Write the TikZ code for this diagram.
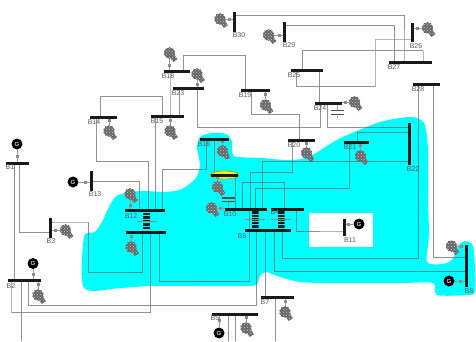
\documentclass[tikz,border=0pt]{standalone}
\usepackage{fontspec}
\setmainfont{Liberation Sans}
\usepackage{tikz}
\usetikzlibrary{backgrounds,shapes.geometric,patterns}
\definecolor{tiegray}{RGB}{100,100,100}
\definecolor{lightgray2}{RGB}{150,150,150}
\definecolor{aquaarea}{RGB}{0,255,255}

\begin{document}
\begin{tikzpicture}[x=1pt,y=-1pt,
  hbus/.style={fill=black!90,inner sep=0pt,minimum height=3pt,minimum width=#1},
  vbus/.style={fill=black!90,inner sep=0pt,minimum width=3pt,minimum height=#1},
  lbl/.style={font=\fontsize{7}{8}\selectfont,text=black!65,inner sep=0pt},
  gen/.style={circle,fill=black,inner sep=0pt,minimum size=11pt,text=white!80!black,font=\fontsize{6}{6}\selectfont\bfseries},
  loadtail/.style={fill=black!60,rotate=-55,inner sep=0pt,minimum width=10pt,minimum height=5pt,
    postaction={pattern=crosshatch dots,pattern color=white!80!black}},
  load/.style={star,star points=10,star point ratio=1.2,fill=black!60,inner sep=0pt,minimum size=12pt,
    postaction={pattern=crosshatch dots,pattern color=white!80!black},
    append after command={node[loadtail] at ([shift={(3pt,-3.5pt)}]\tikzlastnode.center) {}}},
  sq/.style={fill=black!45,inner sep=0pt,minimum size=3pt},
  stub/.style={draw=black!40,line width=0.7pt},
  tie/.style={draw=tiegray,draw opacity=0.7,line width=0.7pt},
  lighttie/.style={draw=lightgray2,draw opacity=0.7,line width=1pt},
  xline/.style={fill=black!45,inner sep=0pt,minimum width=20pt,minimum height=0.35pt},
  xfmr/.style={inner sep=0pt,minimum width=7pt,minimum height=17pt,
    path picture={\foreach \yy in {-7,-3.5,0,3.5,7}{\fill[black!90] ([yshift=\yy pt-1.2pt]path picture bounding box.west) rectangle ([yshift=\yy pt+1.2pt]path picture bounding box.east);}},
    append after command={node[xline] at (\tikzlastnode.center) {}}},
  capplate/.style={fill=black!70,inner sep=0pt,minimum width=13pt,minimum height=1.3pt}]
\useasboundingbox (0,0) rectangle (476,341);
% buses
\node[vbus=20pt] (b30) at (234,22) {};
\node[vbus=20pt] (b29) at (284.5,32) {};
\node[vbus=19pt] (b26) at (412,32.5) {};
\node[hbus=43pt] (b27) at (410.5,62) {};
\node[hbus=27pt] (b28) at (426.5,84) {};
\node[hbus=32pt] (b25) at (307,70) {};
\node[hbus=27pt] (b24) at (328.5,103) {};
\node[hbus=29pt] (b19) at (255.5,90) {};
\node[hbus=27pt] (b20) at (301.5,140) {};
\node[hbus=25pt] (b21) at (356.5,142) {};
\node[vbus=42pt] (b22) at (409,144) {};
\node[hbus=26pt] (b18) at (177,71) {};
\node[hbus=31pt] (b23) at (188.5,88) {};
\node[hbus=27pt] (b14) at (103.5,117) {};
\node[hbus=33pt] (b15) at (167.5,116) {};
\node[hbus=29pt] (b16) at (214.5,139) {};
\node[hbus=27pt] (b17) at (224.5,175) {};
\node[hbus=23pt] (b1) at (17.5,163) {};
\node[vbus=20pt] (b13) at (91.5,181) {};
\node[vbus=20pt] (b3) at (50,228) {};
\node[hbus=33pt] (b2) at (24.5,280) {};
\node[hbus=40pt] (b12) at (145,210) {};
\node[hbus=40pt] (b12low) at (146,232) {};
\node[hbus=42pt] (b10) at (246,209) {};
\node[hbus=33pt] (b4) at (287.5,209) {};
\node[hbus=46pt] (b6) at (268,230) {};
\node[vbus=17pt] (b11) at (344,227.5) {};
\node[hbus=33pt] (b7) at (277.5,297) {};
\node[hbus=46pt] (b5) at (235,314) {};
\node[vbus=42pt] (b8) at (466,266) {};
% bus labels
\node[lbl] at (239,35) {B30};
\node[lbl] at (289,45) {B29};
\node[lbl] at (416,46) {B26};
\node[lbl] at (394,67) {B27};
\node[lbl] at (418,89) {B28};
\node[lbl] at (294,75) {B25};
\node[lbl] at (320,108) {B24};
\node[lbl] at (245,95) {B19};
\node[lbl] at (294,145) {B20};
\node[lbl] at (350,147) {B21};
\node[lbl] at (413,169) {B22};
\node[lbl] at (168,76) {B18};
\node[lbl] at (178,93) {B23};
\node[lbl] at (94,122) {B14};
\node[lbl] at (157,121) {B15};
\node[lbl] at (204,144) {B16};
\node[lbl] at (10,167) {B1};
\node[lbl] at (95,194) {B13};
\node[lbl] at (51,241) {B3};
\node[lbl] at (11,286) {B2};
\node[lbl] at (131,216) {B12};
\node[lbl] at (230,214) {B10};
\node[lbl] at (275,212) {B4};
\node[lbl] at (242,236) {B6};
\node[lbl] at (350,240) {B11};
\node[lbl] at (265,302) {B7};
\node[lbl] at (215,318) {B5};
\node[lbl] at (469,291) {B8};
% generators
\node[gen] (g1) at (17,144) {G};
\node[gen] (g13) at (73,182) {G};
\node[gen] (g2) at (33,263.5) {G};
\node[gen] (g5) at (219,333) {G};
\node[gen] (g11) at (359,224) {G};
\node[gen] (g8) at (449,281) {G};
% loads
\node[load] (l30) at (220,19) {};
\node[load] (l18) at (169.5,53) {};
\node[load] (l23) at (197,74) {};
\node[load] (l14) at (109,131) {};
\node[load] (l15) at (170,131) {};
\node[load] (l16) at (222.5,151) {};
\node[load] (l29) at (268.5,35) {};
\node[load] (l26) at (427.5,28) {};
\node[load] (l19) at (265.5,105) {};
\node[load] (l24) at (354.5,102) {};
\node[load] (l20) at (306.5,153) {};
\node[load] (l21) at (360.5,156) {};
\node[load] (l12) at (130,194) {};
\node[load] (l12low) at (131,247) {};
\node[load] (l3) at (65.5,230) {};
\node[load] (l2) at (38,295) {};
\node[load] (l10) at (211.5,208) {};
\node[load] (l17) at (217.5,187) {};
\node[load] (l7) at (285,312) {};
\node[load] (l5) at (246,328) {};
\node[load] (l8) at (451.5,246) {};
% transformers and capacitors
\node[xfmr] (t12) at (146.5,221) {};
\node[xfmr] (t10) at (255,219.5) {};
\node[xfmr] (t4) at (281,219.5) {};
\node[capplate] (c24a) at (337,110.7) {};
\node[capplate] (c24b) at (337,114.7) {};
\node[capplate] (c10a) at (228,198) {};
\node[capplate] (c10b) at (228,201.5) {};
\begin{scope}[on background layer]
% shaded area
\fill[aquaarea] plot[smooth cycle,tension=0.45] coordinates {(84,288) (84,237) (95,232) (102,222) (110,205) (118,195) (140,191) (165,192) (182,189) (196,178) (200,165) (197,148) (200,137) (212,133) (226,134) (232,142) (234,156) (262,158) (285,160) (302,159) (316,153) (330,144) (345,136) (380,122) (410,117) (424,123) (428,150) (428,200) (429,235) (427,262) (442,264) (452,260) (458,246) (465,241) (473,246) (475,270) (475,292) (468,295) (437,295) (433,283) (400,283) (330,283) (300,282) (280,277) (266,272) (260,276) (256,285) (240,286) (200,286) (150,286) (120,288)};
\fill[white] (309,213) rectangle (373,247);
% lines
\draw[tie] (183,0 |- b18) |- (245,55) -- (245,0 |- b19);
\draw[tie] (100,0 |- b14) |- (162.7,96) -- (162.7,0 |- b15);
\draw[lighttie] (170,0 |- b18) -- (170,0 |- b15);
\draw[tie] (179,0 |- b23) -- (179,0 |- b15);
\draw[tie] (197,0 |- b23) |- (320,127) -- (320,0 |- b24);
\draw[tie] (96.7,0 |- b14) |- (148.3,161) -- (148.3,0 |- b12);
\draw[tie] (155.3,0 |- b15) -- (155.3,0 |- b12);
\draw[tie] (206,0 |- b16) |- (162.3,169.5) -- (162.3,0 |- b12);
\draw[tie] (b13) -| (139.5,0 |- b12);
\draw[tie] (214,0 |- b16) -- (214,0 |- b17);
\draw[tie] (235,0 |- b17) -- (235,0 |- b10);
\draw[tie] (14.3,0 |- b1) -- (14.3,0 |- b2);
\draw[tie] (19.5,0 |- b1) |- (50,232);
\draw[lighttie] (50,222) -- (88,222);
\draw[tie] (88,222) |- (142,272) -- (142,0 |- b12low);
\draw[tie] (21.7,0 |- b2) -- (21.7,341);
\draw[tie] (28.3,0 |- b2) |- (256.7,305.7) -- (256.7,0 |- b6);
\draw[lighttie] (11.7,0 |- b2) -- (11.7,312.7);
\draw[tie] (11.7,312.7) -| (150.3,0 |- b12low);
\draw[tie] (159,0 |- b12low) |- (249.3,281) -- (249.3,0 |- b10);
\draw[tie] (242.7,0 |- b10) |- (284.3,182.7) -- (284.3,0 |- b4);
\draw[tie] (255.3,0 |- b10) |- (349.5,188) -- (349.5,0 |- b21);
\draw[tie] (262,0 |- b10) |- (409,161);
\draw[tie] (292.7,0 |- b20) |- (250,172) -- (250,0 |- b10);
\draw[tie] (357.3,0 |- b21) |- (409,132.7);
\draw[tie] (251.3,0 |- b19) |- (299.3,114.3) -- (299.3,0 |- b20);
\draw[tie] (302.7,0 |- b25) |- (423,50.7);
\draw[lighttie] (423,50.7) -- (423,0 |- b27);
\draw[tie] (296,0 |- b25) |- (375,86.7);
\draw[lighttie] (375,86.7) |- (412,39.7);
\draw[tie] (319.3,0 |- b25) -- (319.3,0 |- b24);
\draw[tie] (327.7,0 |- b24) |- (409,127);
\draw[tie] (394.7,0 |- b27) |- (284.5,25.3);
\draw[tie] (404,30) |- (234,15);
\draw[lighttie] (404,30) -- (404,0 |- b27);
\draw[tie] (418.3,0 |- b28) |- (282.3,258.3) -- (282.3,0 |- b6);
\draw[tie] (433.3,0 |- b28) |- (466,257.3);
\draw[tie] (274.7,0 |- b6) |- (466,271.3);
\draw[tie] (265.3,0 |- b6) -- (265.3,0 |- b7);
\draw[tie] (296.3,0 |- b4) |- (320,231.3);
\draw[lighttie] (320,231.3) -- (344,231.3);
\draw[tie] (275.3,0 |- b7) -- (275.3,341);
\draw[tie] (228.7,0 |- b5) -- (228.7,341);
\draw[tie] (235.3,0 |- b5) -- (235.3,341);
\node[ellipse,draw=black!60!yellow,fill=yellow,inner sep=0pt,minimum width=29pt,minimum height=8pt] (bulge) at (224.5,175) {};
% generator and load connections
\draw[stub] (g1) -- node[sq]{} (g1 |- b1);
\draw[stub] (g13) -- node[sq]{} (g13 -| b13);
\draw[stub] (g2) -- node[sq]{} (g2 |- b2);
\draw[stub] (g5) -- node[sq]{} (g5 |- b5);
\draw[stub] (g11) -- node[sq]{} (g11 -| b11);
\draw[stub] (g8) -- node[sq]{} (g8 -| b8);
\draw[stub] (l30) -- node[sq]{} (l30 -| b30);
\draw[stub] (l18) -- node[sq]{} (l18 |- b18);
\draw[stub] (l23) -- node[sq]{} (l23 |- b23);
\draw[stub] (l14) -- node[sq]{} (l14 |- b14);
\draw[stub] (l15) -- node[sq]{} (l15 |- b15);
\draw[stub] (l16) -- node[sq]{} (l16 |- b16);
\draw[stub] (l29) -- node[sq]{} (l29 -| b29);
\draw[stub] (l26) -- node[sq]{} (l26 -| b26);
\draw[stub] (l19) -- node[sq]{} (l19 |- b19);
\draw[stub] (l24) -- node[sq]{} (l24 -| b24.east);
\draw[stub] (l20) -- node[sq]{} (l20 |- b20);
\draw[stub] (l21) -- node[sq]{} (l21 |- b21);
\draw[stub] (l12) -- node[sq]{} (l12 |- b12);
\draw[stub] (l12low) -- node[sq]{} (l12low |- b12low);
\draw[stub] (l3) -- node[sq]{} (l3 -| b3);
\draw[stub] (l2) -- node[sq]{} (l2 |- b2);
\draw[stub] (l10) -- node[sq]{} (l10 -| b10.west);
\draw[stub] (l17) -- node[sq]{} (l17 |- b17);
\draw[stub] (l7) -- node[sq]{} (l7 |- b7);
\draw[stub] (l5) -- node[sq]{} (l5 |- b5);
\draw[stub] (l8) -- node[sq]{} (l8 -| b8);
\draw[stub] (c24a) -- (c24a |- b24);
\draw[stub] (c24b) -- +(0,3);
\draw[stub] (c10b) -- (c10b |- b10);
\end{scope}
\end{tikzpicture}
\end{document}
